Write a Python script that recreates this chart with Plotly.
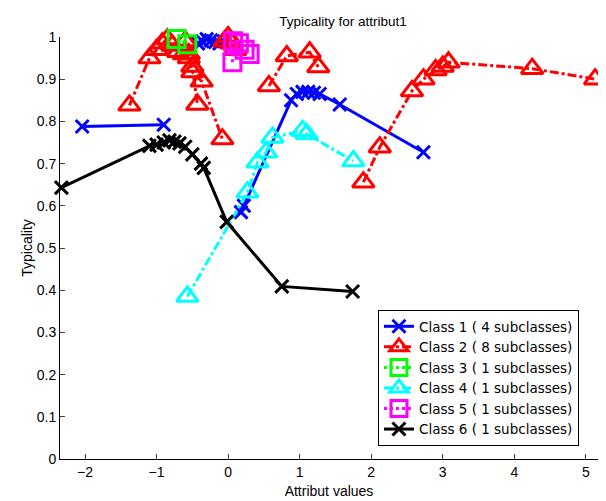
import plotly.graph_objects as go

# Class data (None separates subclass segments)
class1_x = [-2.04, -0.90, None, -0.42, -0.36, -0.30, -0.24, -0.18, -0.12, -0.06, None,
            0.18, 0.22, 0.88, 0.96, 1.04, 1.12, 1.20, 1.28, 1.56, 2.73]
class1_y = [0.788, 0.792, None, 0.985, 0.990, 0.995, 0.992, 0.988, 0.985, 0.990, None,
            0.585, 0.600, 0.850, 0.865, 0.870, 0.870, 0.868, 0.865, 0.840, 0.727]

class2_x = [-1.38, -1.10, -1.00, -0.92, -0.85, -0.78, -0.70, -0.62, -0.55, -0.50, -0.37, -0.08, None,
            -0.60, -0.55, -0.50, -0.43, None,
            -0.05, 0.00, 0.05, 0.10, None,
            0.57, 0.82, 1.14, 1.26, None,
            1.89, 2.12, 2.57, 2.73, 2.90, 3.00, 3.08, 4.25, 5.13]
class2_y = [0.838, 0.950, 0.970, 0.985, 0.995, 0.980, 0.965, 0.960, 0.950, 0.917, 0.895, 0.758, None,
            0.990, 0.960, 0.930, 0.840, None,
            0.990, 1.000, 0.985, 0.970, None,
            0.884, 0.955, 0.964, 0.929, None,
            0.656, 0.739, 0.872, 0.900, 0.922, 0.930, 0.940, 0.925, 0.900]

class3_x = [-0.72, -0.57]
class3_y = [0.995, 0.983]

class4_x = [-0.57, 0.27, 0.41, 0.53, 0.62, 1.04, 1.10, 1.75]
class4_y = [0.385, 0.632, 0.703, 0.727, 0.762, 0.778, 0.770, 0.706]

class5_x = [0.06, 0.07, 0.15, 0.23, 0.30]
class5_y = [0.940, 0.990, 0.985, 0.970, 0.960]

class6_x = [-2.33, -1.10, -1.00, -0.90, -0.82, -0.75, -0.68, -0.60, -0.50, -0.38, -0.34, -0.02, 0.75, 1.74]
class6_y = [0.643, 0.742, 0.745, 0.750, 0.755, 0.752, 0.748, 0.740, 0.722, 0.700, 0.690, 0.562, 0.409, 0.397]

names = ["Class 1 ( 4 subclasses)", "Class 2 ( 8 subclasses)", "Class 3 ( 1 subclasses)",
         "Class 4 ( 1 subclasses)", "Class 5 ( 1 subclasses)", "Class 6 ( 1 subclasses)"]

x_ticks = [-2, -1, 0, 1, 2, 3, 4, 5]
y_ticks = [0, 0.1, 0.2, 0.3, 0.4, 0.5, 0.6, 0.7, 0.8, 0.9, 1]
y_tick_labels = ["0", "0.1", "0.2", "0.3", "0.4", "0.5", "0.6", "0.7", "0.8", "0.9", "1"]

styles = [
    ("#0000FF", "solid", "x-thin-open", 13),
    ("#FF0000", "dashdot", "triangle-up-open", 19),
    ("#00FF00", "dot", "square-open", 17),
    ("#00FFFF", "dashdot", "triangle-up-open", 19),
    ("#FF00FF", "dot", "square-open", 17),
    ("#000000", "solid", "x-thin-open", 13),
]
data = [(class1_x, class1_y), (class2_x, class2_y), (class3_x, class3_y),
        (class4_x, class4_y), (class5_x, class5_y), (class6_x, class6_y)]

fig = go.Figure()
for (xs, ys), name, (col, dash, sym, size) in zip(data, names, styles):
    fig.add_trace(go.Scatter(
        x=xs, y=ys, name=name, mode="lines+markers",
        line=dict(color=col, width=3, dash=dash),
        marker=dict(symbol=sym, size=size, color=col, line=dict(color=col, width=3)),
        cliponaxis=False,
    ))

font_family = "Liberation Sans, Arial, sans-serif"
fig.update_layout(
    width=606, height=501,
    margin=dict(l=52, r=16, t=29, b=50, autoexpand=False),
    paper_bgcolor="white", plot_bgcolor="white",
    font=dict(family=font_family, size=14, color="black"),
    title=dict(text="Typicality for attribut1", x=0.553, xanchor="center", y=0.982, yanchor="top",
               font=dict(size=13.5, color="black")),
    legend=dict(x=0.591, y=0.353, xanchor="left", yanchor="top",
                bordercolor="black", borderwidth=1, bgcolor="white",
                font=dict(size=13.5, family="DejaVu Sans, sans-serif"), tracegroupgap=0, itemwidth=30),
    showlegend=True,
)
fig.update_xaxes(range=[-2.35, 5.17], tickvals=x_ticks, ticks="inside", ticklen=5,
                 showline=True, linecolor="black", linewidth=1, showgrid=False, zeroline=False,
                 automargin=False,
                 title=dict(text="Attribut values", standoff=7, font=dict(size=14)),
                 tickfont=dict(size=14))
fig.update_yaxes(range=[0, 1], tickvals=y_ticks, ticktext=y_tick_labels, ticks="inside", ticklen=5,
                 showline=True, linecolor="black", linewidth=1, showgrid=False, zeroline=False,
                 automargin=False,
                 title=dict(text="Typicality", standoff=0, font=dict(size=14)),
                 tickfont=dict(size=14))

fig.write_html("out.html")
